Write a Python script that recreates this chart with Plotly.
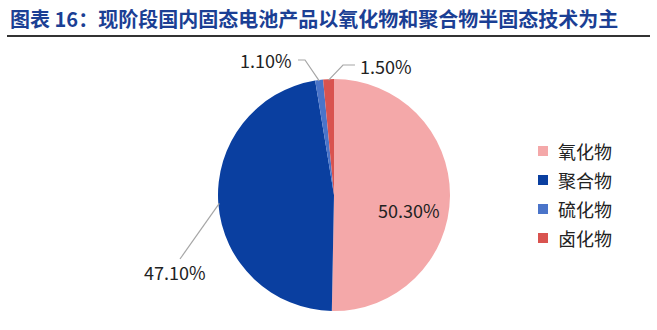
import math
import plotly.graph_objects as go

labels = ["氧化物", "聚合物", "硫化物", "卤化物"]
values = [50.30, 47.10, 1.10, 1.50]
colors = ["#F4A8A9", "#0A3FA0", "#4A74C9", "#D9534F"]
title = "图表 16：现阶段国内固态电池产品以氧化物和聚合物半固态技术为主"

W, H = 657, 330
cx, cy, r = 334, 195, 116  # pie centre/radius in pixels

FONT = "Noto Sans CJK SC, Microsoft YaHei, sans-serif"
LBL = 18

texts = [f"{v:.2f}%" for v in values]

fig = go.Figure(go.Pie(
    labels=labels, values=values, sort=False, direction="clockwise", rotation=0,
    marker=dict(colors=colors, line=dict(width=0)),
    textinfo="none",
    domain=dict(x=[(cx - r) / W, (cx + r) / W], y=[1 - (cy + r) / H, 1 - (cy - r) / H]),
    hoverinfo="label+percent", showlegend=False,
))

def px(x, y):
    return x / W, 1 - y / H

total = sum(values)
cum = 0
mids = []
for v in values:
    mids.append((cum + v / 2) / total * 2 * math.pi)
    cum += v

shapes = []
annotations = []

# inside label of the largest slice
ax, ay = px(409, 210)
annotations.append(dict(x=ax, y=ay, xref="paper", yref="paper", text=texts[0],
                        showarrow=False, xanchor="center", yanchor="middle",
                        font=dict(family=FONT, size=LBL, color="#222222")))

# outside labels with leader lines from slice mid-angle on the rim
outside = {
    1: dict(elbow=(180, 259), end=None, lx=175, ly=272, anchor="center"),
    2: dict(elbow=(305, 60), end=(298, 60), lx=294, ly=60, anchor="right"),
    3: dict(elbow=(343, 65), end=(355, 65), lx=358, ly=66, anchor="left"),
}
for i, o in outside.items():
    a = mids[i]
    sx = cx + (r - 1) * math.sin(a)
    sy = cy - (r - 1) * math.cos(a)
    pts = [(sx, sy), o["elbow"]] + ([o["end"]] if o["end"] else [])
    path = "M " + " L ".join(f"{px(x, y)[0]:.5f},{px(x, y)[1]:.5f}" for x, y in pts)
    shapes.append(dict(type="path", xref="paper", yref="paper", path=path,
                       line=dict(color="#A6A6A6", width=1.2)))
    ax, ay = px(o["lx"], o["ly"])
    annotations.append(dict(x=ax, y=ay, xref="paper", yref="paper", text=texts[i],
                            showarrow=False, xanchor=o["anchor"], yanchor="middle",
                            font=dict(family=FONT, size=LBL, color="#222222")))

# legend (drawn manually to match spacing)
leg_y = [151, 180, 209, 238]
for lab, col, y in zip(labels, colors, leg_y):
    x0, y0 = px(538, y - 5)
    x1, y1 = px(548, y + 5)
    shapes.append(dict(type="rect", xref="paper", yref="paper", x0=x0, x1=x1, y0=y1, y1=y0,
                       fillcolor=col, line=dict(width=0)))
    tx, ty = px(556, y)
    annotations.append(dict(x=tx, y=ty, xref="paper", yref="paper", text=lab,
                            showarrow=False, xanchor="left", yanchor="middle",
                            font=dict(family=FONT, size=18, color="#222222")))

annotations.append(dict(x=8 / W, y=1 - 18 / H, xref="paper", yref="paper", text=f"<b>{title}</b>",
                        showarrow=False, xanchor="left", yanchor="middle",
                        font=dict(family=FONT, size=20, color="#1B3F94")))
shapes.append(dict(type="line", xref="paper", yref="paper", x0=7 / W, x1=650 / W,
                   y0=1 - 36 / H, y1=1 - 36 / H, line=dict(color="#333333", width=2)))

fig.update_layout(
    width=W, height=H, margin=dict(l=0, r=0, t=0, b=0),
    paper_bgcolor="white", plot_bgcolor="white",
    shapes=shapes, annotations=annotations,
)

fig.write_html("out.html")
